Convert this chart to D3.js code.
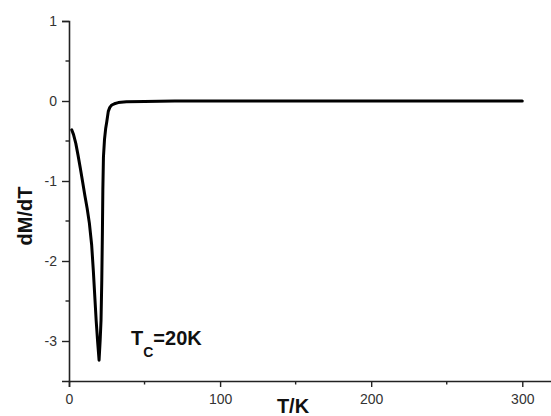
<!DOCTYPE html>
<html>
<head>
<meta charset="utf-8">
<script src="https://cdn.jsdelivr.net/npm/d3@7"></script>
<style>
  body { margin: 0; background: #fff; }
  svg { display: block; font-family: "Liberation Sans", Arial, sans-serif; }
</style>
</head>
<body>
<div id="chart"></div>
<script>
// data
var temps = [1.8, 3, 4.5, 6, 7.5, 9, 10.5, 12, 13.5, 15, 16.1, 17, 18, 19, 19.9,
             20.6, 21.2, 21.7, 22.1, 22.4, 22.8, 23.5, 24.3, 25, 26, 27, 28.3, 30, 32.6, 38, 50, 70, 100, 150, 200, 250, 300];
var dMdT  = [-0.36, -0.42, -0.53, -0.68, -0.84, -1.01, -1.18, -1.34, -1.53, -1.80, -2.12, -2.42, -2.75, -3.02, -3.24,
             -3.00, -2.74, -2.24, -1.65, -1.11, -0.70, -0.48, -0.34, -0.26, -0.13, -0.08, -0.05, -0.035, -0.02, -0.01, -0.005, 0, 0, 0, 0, 0, 0];

var xMajor = [0, 100, 200, 300];
var xMinor = [50, 150, 250];
var yMajor = [1, 0, -1, -2, -3];
var yMinor = [0.5, -0.5, -1.5, -2.5];

var data = temps.map(function(t, i) { return {t: t, v: dMdT[i]}; });

var w = 551, h = 416;

var svg = d3.select("#chart")
            .append("svg")
            .attr("width", w)
            .attr("height", h);

svg.append("rect").attr("width", w).attr("height", h).attr("fill", "#fff");

// scales
var x = d3.scaleLinear().domain([0, 320]).range([69, 552.5]);
var y = d3.scaleLinear().domain([-3.5, 1]).range([381, 21]);

// axes
var xAxis = d3.axisBottom(x)
              .tickValues(xMajor)
              .tickSize(6)
              .tickPadding(7)
              .tickFormat(function(d) { return String(d); });

var gx = svg.append("g")
            .attr("transform", "translate(0," + y(-3.5) + ")")
            .call(xAxis);

var yAxis = d3.axisLeft(y)
              .tickValues(yMajor)
              .tickSize(7)
              .tickPadding(5)
              .tickFormat(function(d) { return String(d); });

var gy = svg.append("g")
            .attr("transform", "translate(" + x(0) + ",0)")
            .call(yAxis);

[gx, gy].forEach(function(g) {
  g.select(".domain").attr("stroke", "#222").attr("stroke-width", 1.6);
  g.selectAll(".tick line").attr("stroke", "#222").attr("stroke-width", 1.4);
  g.selectAll(".tick text")
   .attr("fill", "#333")
   .style("font-size", "14px")
   .style("font-family", "'Liberation Sans', Arial, sans-serif");
});

// minor ticks
svg.append("g").selectAll("line")
   .data(xMinor)
   .enter()
   .append("line")
   .attr("x1", function(d) { return x(d); })
   .attr("x2", function(d) { return x(d); })
   .attr("y1", y(-3.5))
   .attr("y2", y(-3.5) + 3.5)
   .attr("stroke", "#222")
   .attr("stroke-width", 1.4);

svg.append("g").selectAll("line")
   .data(yMinor)
   .enter()
   .append("line")
   .attr("x1", x(0) - 3.5)
   .attr("x2", x(0))
   .attr("y1", function(d) { return y(d); })
   .attr("y2", function(d) { return y(d); })
   .attr("stroke", "#222")
   .attr("stroke-width", 1.4);

// curve
var line = d3.line()
             .x(function(d) { return x(d.t); })
             .y(function(d) { return y(d.v); });

svg.append("path")
   .datum(data)
   .attr("d", line)
   .attr("fill", "none")
   .attr("stroke", "#000")
   .attr("stroke-width", 3)
   .attr("stroke-linejoin", "round")
   .attr("stroke-linecap", "round");

// axis labels
svg.append("text")
   .attr("transform", "translate(32,216) rotate(-90)")
   .attr("text-anchor", "middle")
   .style("font-size", "20px")
   .style("font-weight", "bold")
   .attr("fill", "#111")
   .text("dM/dT");

svg.append("text")
   .attr("x", 293)
   .attr("y", 413)
   .attr("text-anchor", "middle")
   .style("font-size", "20px")
   .style("font-weight", "bold")
   .attr("fill", "#111")
   .text("T/K");

// annotation
var note = svg.append("text")
              .attr("x", 131)
              .attr("y", 345)
              .style("font-size", "20px")
              .style("font-weight", "bold")
              .attr("fill", "#111");
note.append("tspan").text("T");
note.append("tspan").attr("dy", 12).style("font-size", "14px").text("C");
note.append("tspan").attr("dy", -12).text("=20K");
</script>
</body>
</html>
